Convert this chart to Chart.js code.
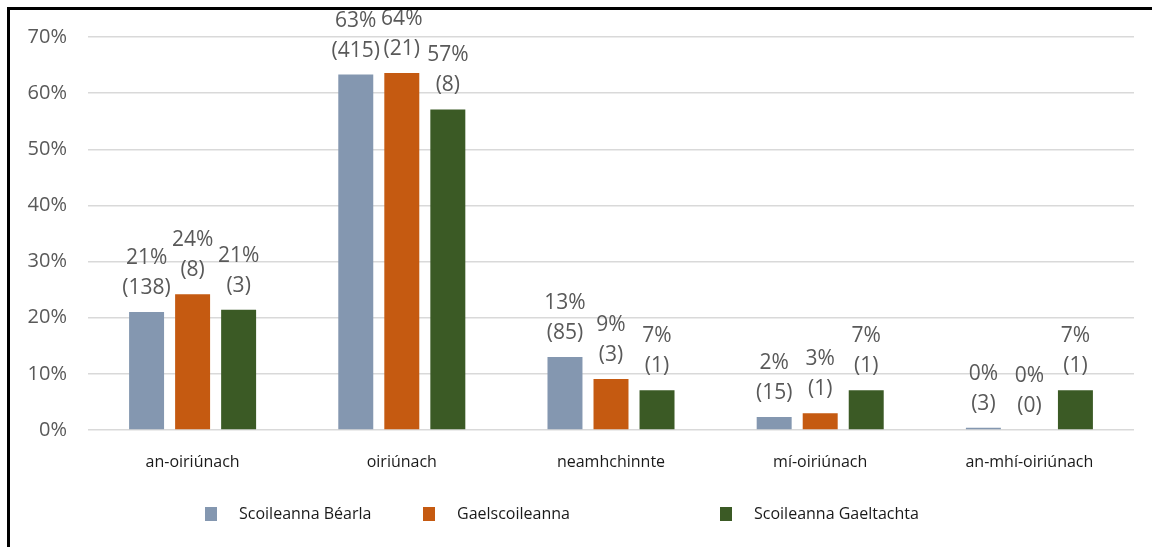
<!DOCTYPE html>
<html><head><meta charset="utf-8">
<script src="https://cdn.jsdelivr.net/npm/chart.js@4.4.1/dist/chart.umd.min.js"></script>
<style>
html,body{margin:0;padding:0;background:#fff;width:1152px;height:547px;overflow:hidden}
#wrap{position:relative;width:1152px;height:547px}
#frame{position:absolute;left:7px;top:7px;width:1160px;height:560px;border-left:3px solid #000;border-top:3px solid #000;pointer-events:none}
canvas{position:absolute;left:0;top:0}
</style></head>
<body><div id="wrap"><canvas id="c" width="1152" height="547"></canvas><div id="frame"></div></div>
<script>
const categories = ['an-oiriúnach', 'oiriúnach', 'neamhchinnte', 'mí-oiriúnach', 'an-mhí-oiriúnach'];
const seriesNames = ['Scoileanna Béarla', 'Gaelscoileanna', 'Scoileanna Gaeltachta'];
const bearlaValues = [21.0, 63.3, 13.0, 2.3, 0.4];
const bearlaCounts = [138, 415, 85, 15, 3];
const gaelValues = [24.2, 63.6, 9.1, 3.0, 0];
const gaelCounts = [8, 21, 3, 1, 0];
const gaeltachtValues = [21.4, 57.1, 7.1, 7.1, 7.1];
const gaeltachtCounts = [3, 8, 1, 1, 1];
const yTicks = [0, 10, 20, 30, 40, 50, 60, 70];

const colors = ['#8497B0', '#C55A11', '#3B5A25'];
const FONT = "'Open Sans', 'DejaVu Sans', sans-serif";

const labelPlugin = {
  id: 'barLabels',
  afterDatasetsDraw(chart) {
    const ctx = chart.ctx;
    ctx.save();
    ctx.font = '21px ' + FONT;
    ctx.fillStyle = '#595959';
    ctx.textAlign = 'center';
    ctx.textBaseline = 'middle';
    chart.data.datasets.forEach((ds, di) => {
      const meta = chart.getDatasetMeta(di);
      meta.data.forEach((el, i) => {
        const pct = Math.round(ds.data[i]) + '%';
        const cnt = '(' + ds.counts[i] + ')';
        ctx.fillText(pct, el.x, el.y - 54);
        ctx.fillText(cnt, el.x, el.y - 24);
      });
    });
    ctx.restore();
  }
};

const legendPlugin = {
  id: 'customLegend',
  afterDraw(chart) {
    const ctx = chart.ctx;
    const xs = [205, 423, 720];
    const y = 514;
    ctx.save();
    ctx.font = '16px ' + FONT;
    ctx.textBaseline = 'middle';
    ctx.textAlign = 'left';
    chart.data.datasets.forEach((ds, i) => {
      ctx.fillStyle = ds.backgroundColor;
      ctx.fillRect(xs[i], y - 7, 12, 14);
      ctx.fillStyle = '#1a1a1a';
      ctx.fillText(ds.label, xs[i] + 34, y);
    });
    ctx.restore();
  }
};

const mk = (i, data, counts) => ({
  label: seriesNames[i], data, counts,
  backgroundColor: colors[i], borderWidth: 0,
  categoryPercentage: 0.66, barPercentage: 0.76
});

new Chart(document.getElementById('c'), {
  type: 'bar',
  data: {
    labels: categories,
    datasets: [mk(0, bearlaValues, bearlaCounts), mk(1, gaelValues, gaelCounts), mk(2, gaeltachtValues, gaeltachtCounts)]
  },
  options: {
    responsive: false, animation: false,
    layout: { padding: { left: 0, right: 18, top: 37, bottom: 0 } },
    plugins: { legend: { display: false }, tooltip: { enabled: false } },
    scales: {
      x: {
        grid: { display: false, drawTicks: false }, border: { display: false },
        ticks: { color: '#1a1a1a', font: { family: FONT, size: 16 }, padding: 23, maxRotation: 0 },
        afterFit(s) { s.height = 117; }
      },
      y: {
        min: yTicks[0], max: yTicks[yTicks.length - 1],
        afterBuildTicks(s) { s.ticks = yTicks.map(v => ({ value: v })); },
        ticks: { callback: v => v + '%', color: '#595959', font: { family: FONT, size: 20 }, padding: 21 },
        grid: { color: '#d9d9d9', lineWidth: 1.5, drawTicks: false }, border: { display: false },
        afterFit(s) { s.width = 88; }
      }
    }
  },
  plugins: [labelPlugin, legendPlugin]
});
</script>
</body></html>
